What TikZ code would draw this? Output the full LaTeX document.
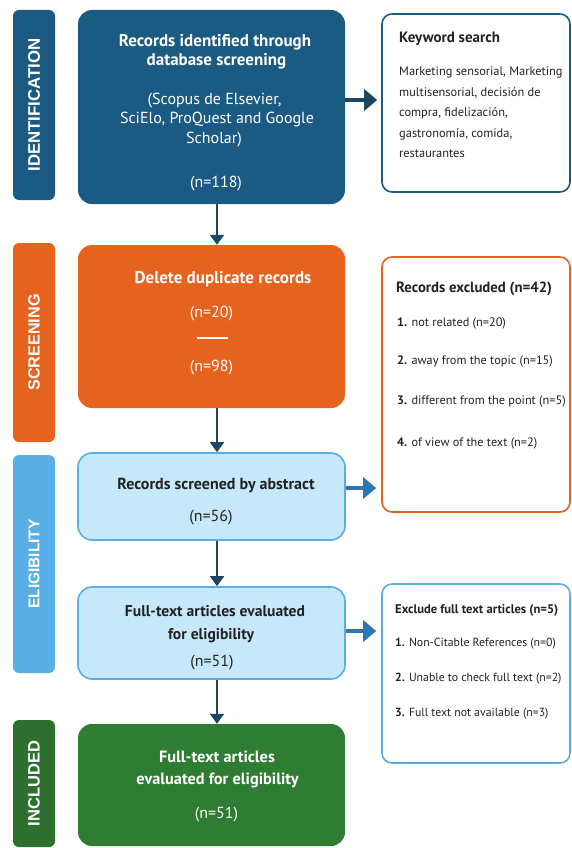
\documentclass[tikz,border=0pt]{standalone}
\usepackage{fontspec}
\setmainfont{PT Sans}
\newfontfamily\barfont{Liberation Sans}
\usetikzlibrary{arrows.meta}
\definecolor{dblue}{HTML}{1B5A82}
\definecolor{navy}{HTML}{1B4763}
\definecolor{orng}{HTML}{E6621F}
\definecolor{lbfill}{HTML}{C6E8FA}
\definecolor{lbline}{HTML}{5AAEE6}
\definecolor{elig}{HTML}{5AAEE6}
\definecolor{mblue}{HTML}{2A77B3}
\definecolor{gbox}{HTML}{2F7D32}
\definecolor{gbar}{HTML}{2D7030}
\definecolor{txt}{HTML}{222222}
\newcommand{\fs}[1]{\fontsize{#1}{#1}\selectfont}
\begin{document}
\begin{tikzpicture}[x=1pt,y=-1pt,
  mainbox/.style={rounded corners=14pt, minimum width=267pt, inner sep=0pt},
  sidebar/.style={rounded corners=6pt, minimum width=42pt, inner sep=0pt},
  rbox/.style={rounded corners=10pt, line width=1.6pt, fill=white, minimum width=188pt, inner sep=0pt},
  harrow/.style={line width=4pt, -{Triangle[length=13pt,width=21pt]}},
  varrow/.style={line width=2pt, draw=navy, -{Triangle[length=10pt,width=14pt]}},
  bartext/.style={text=white, font=\barfont\bfseries, rotate=90, inner sep=0pt},
  wline/.style={text=white, font=\fs{16}, anchor=base, inner sep=0pt},
  kline/.style={text=txt, font=\fs{16}, anchor=base, inner sep=0pt},
  rhead/.style={text=txt, anchor=base west, inner sep=0pt},
  rline/.style={text=txt, anchor=base west, inner sep=0pt},
]
\useasboundingbox[fill=white] (0,0) rectangle (572,848);

% side bars
\node[sidebar, fill=dblue, minimum height=190pt] (sb1) at (34,105) {};
\node[sidebar, fill=orng, minimum height=199pt] (sb2) at (34,342.5) {};
\node[sidebar, fill=elig, minimum height=218pt] (sb3) at (34,564) {};
\node[sidebar, fill=gbar, minimum height=127pt] (sb4) at (34,783.5) {};
\node[bartext] (tb1) at (sb1) {\fs{16.8}IDENTIFICATION};
\node[bartext] (tb2) at (sb2) {\fs{16.2}SCREENING};
\node[bartext] (tb3) at (sb3) {\fs{15.5}ELIGIBILITY};
\node[bartext] (tb4) at (sb4) {\fs{16.5}INCLUDED};

% main boxes
\node[mainbox, fill=dblue, minimum height=194pt] (box1) at (211.5,107) {};
\node[mainbox, fill=orng, minimum height=163pt] (box2) at (211.5,326.5) {};
\node[mainbox, fill=lbfill, draw=lbline, line width=1.6pt, minimum height=87pt] (box3) at (211.5,496.5) {};
\node[mainbox, fill=lbfill, draw=lbline, line width=1.6pt, minimum height=92pt] (box4) at (211.5,633) {};
\node[mainbox, fill=gbox, minimum height=122pt] (box5) at (211.5,785) {};

% texts in main boxes
\node[wline] (t1a) at (215,47) {\fs{17}\bfseries Records identified through};
\node[wline] (t1b) at (216.5,66) {\fs{17}\bfseries database screening};
\node[wline] (t1c) at (214.5,105) {(Scopus de Elsevier,};
\node[wline] (t1d) at (217,124) {SciElo, ProQuest and Google};
\node[wline] (t1e) at (214,143) {Scholar)};
\node[wline] (t1f) at (216,187) {(n=118)};

\node[wline] (t2a) at (223,283) {\fs{17}\bfseries Delete duplicate records};
\node[wline] (t2b) at (211.5,317) {(n=20)};
\node[inner sep=0pt] (t2r) at (212,338) {\textcolor{white}{\rule{31pt}{1.5pt}}};
\node[wline] (t2c) at (211.5,371) {(n=98)};

\node[kline] (t3a) at (216,489) {\fs{16}\bfseries Records screened by abstract};
\node[kline] (t3b) at (211,521) {(n=56)};

\node[kline] (t4a) at (215,616) {\fs{15.6}\bfseries Full-text articles evaluated};
\node[kline] (t4b) at (211,639) {\fs{15.6}\bfseries for eligibility};
\node[kline] (t4c) at (212,666) {(n=51)};

\node[wline] (t5a) at (217,762) {\fs{16.3}\bfseries Full-text articles};
\node[wline] (t5b) at (217.5,784) {\fs{16.3}\bfseries evaluated for eligibility};
\node[wline] (t5c) at (216.5,818) {(n=51)};

% right boxes
\node[rbox, draw=dblue, minimum height=178pt] (rb1) at (476,103) {};
\node[rbox, draw=orng, minimum height=255pt] (rb2) at (476,384.5) {};
\node[rbox, draw=lbline, minimum height=179pt] (rb3) at (476,673.5) {};

\begin{scope}[every node/.append style={font=\fs{12.4}}]
\node[rhead, font=\fs{15}\bfseries] (r1t) at (399,43) {Keyword search};
\node[rline] (r1a) at (399,76) {Marketing sensorial, Marketing};
\node[rline] (r1b) at (399,96.5) {multisensorial, decisión de};
\node[rline] (r1c) at (399,117) {compra, fidelización,};
\node[rline] (r1d) at (399,137.5) {gastronomía, comida,};
\node[rline] (r1e) at (399,157.5) {restaurantes};
\end{scope}

\begin{scope}[every node/.append style={font=\fs{12.3}}]
\node[rhead, font=\fs{14.8}\bfseries] (r2t) at (396,292.5) {Records excluded (n=42)};
\node[rline] (r2a) at (397,326.5) {\textbf{1.} not related (n=20)};
\node[rline] (r2b) at (397,364.5) {\textbf{2.} away from the topic (n=15)};
\node[rline] (r2c) at (397,404.5) {\textbf{3.} different from the point (n=5)};
\node[rline] (r2d) at (397,446.5) {\textbf{4.} of view of the text (n=2)};
\end{scope}

\begin{scope}[every node/.append style={font=\fs{11.8}}]
\node[rhead, font=\fs{12.6}\bfseries] (r3t) at (395,613.5) {Exclude full text articles (n=5)};
\node[rline] (r3a) at (395,646.5) {\textbf{1.} Non-Citable References (n=0)};
\node[rline] (r3b) at (395,681.5) {\textbf{2.} Unable to check full text (n=2)};
\node[rline] (r3c) at (395,716.5) {\textbf{3.} Full text not available (n=3)};
\end{scope}

% connectors
\coordinate (ax) at (217,0);
\coordinate (ay1) at (0,100);
\coordinate (ay2) at (0,488);
\coordinate (ay3) at (0,631);
\draw[varrow] (box1.south -| ax) -- (box2.north -| ax);
\draw[varrow] (box2.south -| ax) -- (box3.north -| ax);
\draw[varrow] (box3.south -| ax) -- (box4.north -| ax);
\draw[varrow] (box4.south -| ax) -- (box5.north -| ax);
\draw[harrow, draw=navy] (box1.east |- ay1) -- ([xshift=-4pt]rb1.west |- ay1);
\draw[harrow, draw=mblue] (box3.east |- ay2) -- ([xshift=-5pt]rb2.west |- ay2);
\draw[harrow, draw=mblue] (box4.east |- ay3) -- ([xshift=-5pt]rb3.west |- ay3);
\end{tikzpicture}
\end{document}
